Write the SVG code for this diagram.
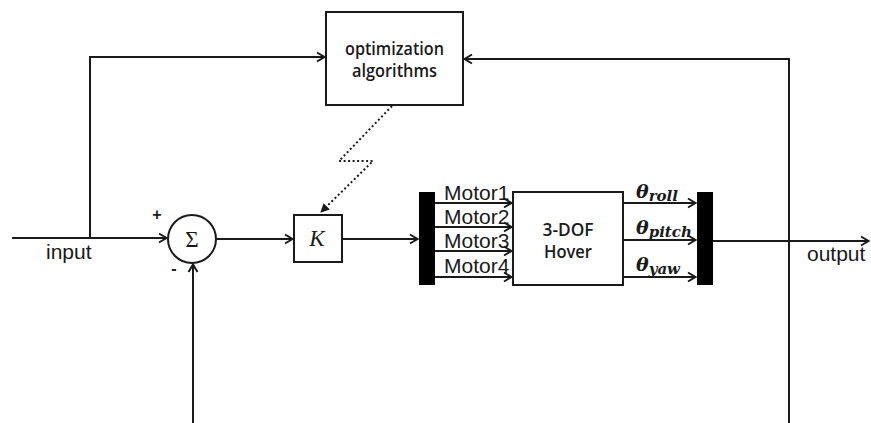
<svg xmlns="http://www.w3.org/2000/svg" width="871" height="423" viewBox="0 0 871 423">
  <style>
    .wire { fill: none; stroke: #1a1a1a; stroke-width: 2; }
    .box { fill: #fff; stroke: #1a1a1a; stroke-width: 2; }
    .bar { fill: #000; }
    .dots { fill: none; stroke: #1a1a1a; stroke-width: 2; stroke-dasharray: 2 2.5; }
    .lbl { font-family: "Liberation Sans", Arial, sans-serif; font-size: 21px; fill: #1a1a1a; }
    .blk { font-family: "Open Sans", "Liberation Sans", sans-serif; font-weight: 600; font-size: 18px; fill: #1a1a1a; text-anchor: middle; }
    .sign { font-family: "Liberation Sans", Arial, sans-serif; font-weight: bold; font-size: 16px; fill: #1a1a1a; text-anchor: middle; }
    .th { font-family: "DejaVu Serif", "Liberation Serif", serif; font-weight: bold; font-style: italic; font-size: 19px; fill: #1a1a1a; }
    .sub { font-size: 15px; }
    .math { font-family: "Liberation Serif", serif; font-size: 23px; fill: #1a1a1a; text-anchor: middle; }
  </style>
  <defs>
    <marker id="arr" markerUnits="userSpaceOnUse" markerWidth="12" markerHeight="12" refX="9" refY="6" orient="auto">
      <path d="M2,1.5 L9.5,6 L2,10.5" fill="none" stroke="#1a1a1a" stroke-width="2"/>
    </marker>
    <marker id="tip" markerUnits="userSpaceOnUse" markerWidth="12" markerHeight="12" refX="9" refY="6" orient="auto">
      <path d="M1,1.5 L10,6 L1,10.5 Z" fill="#1a1a1a"/>
    </marker>
  </defs>

  <!-- signal lines -->
  <g id="connectors">
    <path class="wire" d="M12,238 H166" marker-end="url(#arr)"/>
    <path class="wire" d="M90,238 V57 H324" marker-end="url(#arr)"/>
    <path class="wire" d="M789,423 V59 H465" marker-end="url(#arr)"/>
    <path class="wire" d="M193,423 V265" marker-end="url(#arr)"/>
    <path class="wire" d="M216,239 H292" marker-end="url(#arr)"/>
    <path class="wire" d="M342,239 H417" marker-end="url(#arr)"/>
    <path class="wire" d="M435,203 H511" marker-end="url(#arr)"/>
    <path class="wire" d="M435,227 H511" marker-end="url(#arr)"/>
    <path class="wire" d="M435,251 H511" marker-end="url(#arr)"/>
    <path class="wire" d="M435,277 H511" marker-end="url(#arr)"/>
    <path class="wire" d="M623,203 H695" marker-end="url(#arr)"/>
    <path class="wire" d="M623,240 H695" marker-end="url(#arr)"/>
    <path class="wire" d="M623,277 H695" marker-end="url(#arr)"/>
    <path class="wire" d="M713,241 H868" marker-end="url(#arr)"/>
    <path class="dots" d="M392,106 L339,161 L373,161 L321,212" marker-end="url(#tip)"/>
  </g>

  <g id="optimizer">
    <rect class="box" x="326" y="12" width="137" height="93"/>
    <text class="blk" x="394.5" y="55" textLength="99" lengthAdjust="spacingAndGlyphs">optimization</text>
    <text class="blk" x="394.5" y="77" textLength="85" lengthAdjust="spacingAndGlyphs">algorithms</text>
  </g>

  <g id="sum">
    <circle class="box" cx="192" cy="239" r="24"/>
    <text class="math" x="192" y="247">Σ</text>
    <text class="sign" x="157" y="220">+</text>
    <text class="sign" x="174" y="274">-</text>
  </g>

  <g id="gain">
    <rect class="box" x="294" y="215" width="48" height="47"/>
    <text class="math" x="317" y="246" font-style="italic" font-size="19">K</text>
  </g>

  <g id="mux">
    <rect class="bar" x="419" y="192" width="16" height="93"/>
  </g>

  <g id="motor-labels">
    <text class="lbl" x="444" y="200">Motor1</text>
    <text class="lbl" x="444" y="224">Motor2</text>
    <text class="lbl" x="444" y="248">Motor3</text>
    <text class="lbl" x="444" y="273">Motor4</text>
  </g>

  <g id="plant">
    <rect class="box" x="513" y="192" width="110" height="93"/>
    <text class="blk" x="568" y="236" font-size="16.5" textLength="51" lengthAdjust="spacingAndGlyphs">3-DOF</text>
    <text class="blk" x="568" y="258" font-size="16.5" textLength="48" lengthAdjust="spacingAndGlyphs">Hover</text>
  </g>

  <g id="angle-labels">
    <text class="th" x="636" y="198">θ<tspan class="sub" dy="3">roll</tspan></text>
    <text class="th" x="636" y="234">θ<tspan class="sub" dy="3">pitch</tspan></text>
    <text class="th" x="636" y="271">θ<tspan class="sub" dy="3">yaw</tspan></text>
  </g>

  <g id="demux">
    <rect class="bar" x="697" y="192" width="16" height="93"/>
  </g>

  <g id="io-labels">
    <text class="lbl" x="46" y="259">input</text>
    <text class="lbl" x="807" y="261">output</text>
  </g>
</svg>
